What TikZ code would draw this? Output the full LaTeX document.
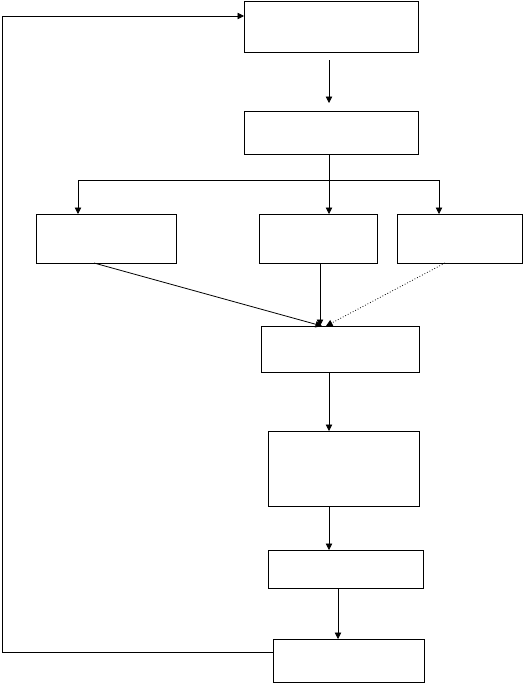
\documentclass[tikz,border=0pt]{standalone}
\usetikzlibrary{arrows.meta}
\begin{document}
\begin{tikzpicture}[x=1pt,y=-1pt,
  box/.style={draw,line width=0.8pt,rectangle,inner sep=0pt,outer sep=0pt,anchor=north west},
  conn/.style={line width=0.8pt},
  arr/.style={line width=0.8pt,-{Triangle[length=6.5pt,width=6.5pt]}}]
\useasboundingbox[fill=white] (0,0) rectangle (528,683);
\node[box,minimum width=174pt,minimum height=51pt] (b1) at (244,1) {};
\node[box,minimum width=174pt,minimum height=43pt] (b2) at (244,111) {};
\node[box,minimum width=140pt,minimum height=49pt] (b3) at (36,214) {};
\node[box,minimum width=118pt,minimum height=49pt] (b4) at (259,214) {};
\node[box,minimum width=125pt,minimum height=49pt] (b5) at (397,214) {};
\node[box,minimum width=158pt,minimum height=46pt] (b6) at (261,326) {};
\node[box,minimum width=151pt,minimum height=75pt] (b7) at (268,431) {};
\node[box,minimum width=155pt,minimum height=38pt] (b8) at (268,550) {};
\node[box,minimum width=151pt,minimum height=43pt] (b9) at (273,639) {};
% column coordinates
\coordinate (cA) at (329,0);
\coordinate (j) at (329,180);
\coordinate (x78) at (78,0);
\coordinate (x439) at (439,0);
\coordinate (x94) at (94,0);
\coordinate (x320) at (320,0);
\coordinate (x322) at (322,0);
\coordinate (x326) at (326,0);
\coordinate (x445) at (445,0);
\coordinate (x338) at (338,0);
\coordinate (fb1) at (2,652);
\coordinate (fb2) at (2,16);
% connectors
\draw[arr] ([yshift=-8pt]b1.south -| cA) -- ([yshift=8pt]b2.north -| cA);
\draw[conn] (b2.south -| j) -- (j);
\draw[arr] (j) -| (b3.north -| x78);
\draw[arr] (j) -- (b4.north -| j);
\draw[arr] (j) -| (b5.north -| x439);
\draw[arr] (b3.south -| x94) -- (b6.north -| x322);
\draw[arr] (b4.south -| x320) -- (b6.north -| x320);
\draw[arr,dotted] (b5.south -| x445) -- (b6.north -| x326);
\draw[arr] (b6.south -| cA) -- (b7.north -| cA);
\draw[arr] (b7.south -| cA) -- (b8.north -| cA);
\draw[arr] (b8.south -| x338) -- (b9.north -| x338);
\draw[arr] (b9.west |- fb1) -- (fb1) -- (fb2) -- (b1.west |- fb2);
\end{tikzpicture}
\end{document}
